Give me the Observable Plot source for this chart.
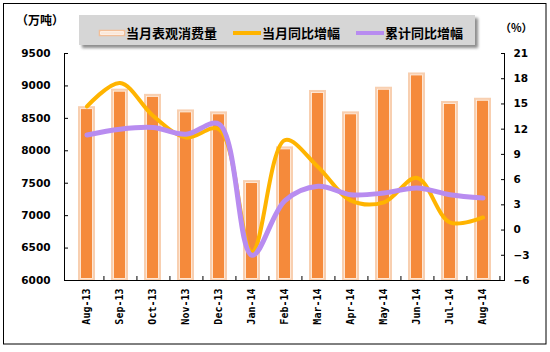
<!DOCTYPE html>
<html><head><meta charset="utf-8">
<script src="https://cdn.jsdelivr.net/npm/d3@7"></script>
<script src="https://cdn.jsdelivr.net/npm/@observablehq/plot@0.6"></script>
<style>body{margin:0;background:#fff} #c{position:relative;width:550px;height:352px}</style>
</head><body><div id="c"></div>
<script>
const months = ["Aug-13","Sep-13","Oct-13","Nov-13","Dec-13","Jan-14","Feb-14","Mar-14","Apr-14","May-14","Jun-14","Jul-14","Aug-14"];
const consumption = [8680, 8950, 8870, 8630, 8600, 7540, 8060, 8930, 8600, 8980, 9200, 8760, 8810];
const monthlyYoY = [14.7, 17.5, 13.6, 11.0, 12.0, -2.6, 10.7, 7.5, 3.5, 3.3, 6.2, 0.9, 1.5];
const cumulativeYoY = [11.3, 12.0, 12.2, 11.4, 12.6, -3.0, 3.5, 5.2, 4.2, 4.4, 5.0, 4.2, 3.8];
const leftTicks = [6000, 6500, 7000, 7500, 8000, 8500, 9000, 9500];
const rightTicks = [-6, -3, 0, 3, 6, 9, 12, 15, 18, 21];
const leftUnit = "（万吨）";
const rightUnit = "（%）";
const legendLabels = ["当月表观消费量", "当月同比增幅", "累计同比增幅"];

const L0 = leftTicks[0], L1 = leftTicks[leftTicks.length - 1];
const R0 = rightTicks[0], R1 = rightTicks[rightTicks.length - 1];
const toLeft = v => L0 + (v - R0) * (L1 - L0) / (R1 - R0);
const fromLeft = d => Math.round(R0 + (d - L0) * (R1 - R0) / (L1 - L0));

const bars = months.map((m, i) => ({month: m, value: consumption[i]}));
const lineA = months.map((m, i) => ({month: m, value: toLeft(monthlyYoY[i])}));
const lineB = months.map((m, i) => ({month: m, value: toLeft(cumulativeYoY[i])}));

const W = 550, H = 352, ML = 64, MR = 46, MT = 53, MB = 72;
const step = (W - ML - MR) / months.length;
const tickFont = "'DejaVu Sans', sans-serif";

const chart = Plot.plot({
  width: W, height: H,
  marginLeft: ML, marginRight: MR, marginTop: MT, marginBottom: MB,
  style: {background: "transparent", overflow: "visible"},
  x: {domain: months, paddingInner: 0.5, paddingOuter: 0.25, label: null},
  y: {domain: [L0, L1], label: null},
  marks: [
    Plot.barY(bars, {x: "month", y1: L0, y2: "value", fill: "#f8cfb0"}),
    Plot.barY(bars, {x: "month", y1: L0, y2: "value", fill: "#f58a3b", stroke: "#fff4ea", strokeWidth: 0.8,
      insetLeft: 2.5, insetRight: 2.5, insetTop: 2.5, insetBottom: 1.5}),
    Plot.line(lineA, {x: "month", y: "value", stroke: "#ffb400", strokeWidth: 4, curve: "catmull-rom"}),
    Plot.line(lineB, {x: "month", y: "value", stroke: "#b88cf0", strokeWidth: 5, curve: "catmull-rom"}),
    Plot.axisY(leftTicks, {anchor: "left", tickSize: -4, tickPadding: 18, label: null,
      tickFormat: d => String(d),
      fontSize: 10.5, fontWeight: "bold", fontFamily: tickFont, fill: "#000"}),
    Plot.axisY(rightTicks.map(toLeft), {anchor: "right", tickSize: -4, tickPadding: 13, label: null,
      tickFormat: d => String(fromLeft(d)).replace("-", "−"),
      fontSize: 10.5, fontWeight: "bold", fontFamily: tickFont, fill: "#000"}),
    Plot.axisX({anchor: "bottom", tickSize: 0, tickPadding: 8, tickRotate: -90, label: null,
      fontSize: 10, fontWeight: "bold", fontFamily: "'DejaVu Sans Mono', monospace", fill: "#000"}),
    Plot.axisX({anchor: "bottom", tickSize: -4, dx: step / 2, tickFormat: () => "", label: null}),
    Plot.frame({anchor: "left", stroke: "#000"}),
    Plot.frame({anchor: "right", stroke: "#000"}),
    Plot.frame({anchor: "bottom", stroke: "#000"})
  ]
});
document.getElementById("c").appendChild(chart);

const svg = d3.select(chart);
const font = "'Noto Sans CJK SC', sans-serif";
// outer border
svg.insert("rect", ":first-child").attr("x", 3.5).attr("y", 3.5).attr("width", 542.5).attr("height", 340.5)
  .attr("fill", "#fff").attr("stroke", "#000").attr("stroke-width", 1);
// unit labels
svg.append("text").attr("x", 16).attr("y", 25).text(leftUnit).attr("text-anchor", "start")
  .attr("font-family", font).attr("font-size", 12).attr("font-weight", "bold");
svg.append("text").attr("x", 500).attr("y", 32).text(rightUnit).attr("text-anchor", "start")
  .attr("font-family", font).attr("font-size", 11).attr("font-weight", "bold");
// legend
const defs = svg.append("defs");
defs.append("filter").attr("id", "sh").append("feGaussianBlur").attr("stdDeviation", 1.5);
const lg = svg.append("g");
lg.append("rect").attr("x", 82).attr("y", 18).attr("width", 396).attr("height", 30).attr("fill", "#8c8c8c").attr("filter", "url(#sh)");
lg.append("rect").attr("x", 79).attr("y", 15).attr("width", 396).attr("height", 30).attr("fill", "#d6d6d6");
lg.append("rect").attr("x", 99.5).attr("y", 30.5).attr("width", 25).attr("height", 5).attr("fill", "#fff").attr("stroke", "#f3bf98").attr("stroke-width", 1.5);
lg.append("line").attr("x1", 101).attr("x2", 123).attr("y1", 33).attr("y2", 33).attr("stroke", "#f7d2b5").attr("stroke-width", 1);
lg.append("line").attr("x1", 233).attr("x2", 261).attr("y1", 33).attr("y2", 33).attr("stroke", "#ffb400").attr("stroke-width", 4);
lg.append("line").attr("x1", 356).attr("x2", 384).attr("y1", 33).attr("y2", 33).attr("stroke", "#b88cf0").attr("stroke-width", 4);
[[126, 0], [262, 1], [385, 2]].forEach(([x, i]) => {
  lg.append("text").attr("x", x).attr("y", 38).text(legendLabels[i]).attr("text-anchor", "start")
    .attr("font-family", font).attr("font-size", 13).attr("font-weight", "bold").attr("fill", "#000");
});
</script></body></html>
